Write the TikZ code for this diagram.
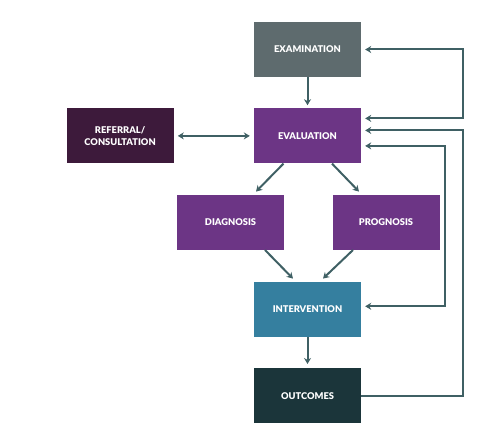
\documentclass[tikz,border=0pt]{standalone}
\usepackage{fontspec}
\setsansfont{Lato}[BoldFont={Lato Black}]
\usepackage{xcolor}
\usetikzlibrary{positioning,arrows.meta}

\definecolor{examgray}{HTML}{5E6B6E}
\definecolor{evalpurple}{HTML}{6C3585}
\definecolor{refplum}{HTML}{3D1A3B}
\definecolor{intblue}{HTML}{357F9F}
\definecolor{outteal}{HTML}{1B353A}
\definecolor{linkcol}{HTML}{3F6064}

\begin{document}
\begin{tikzpicture}[
  x=1pt, y=-1pt,
  node distance=31pt,
  stagebox/.style={rectangle, draw=none, minimum width=107pt, minimum height=55pt,
                   text=white, font=\sffamily\bfseries\fontsize{9.3}{12}\selectfont, align=center},
  link/.style={draw=linkcol, line width=2pt, >={Stealth[length=6pt,width=7pt]}},
  every edge/.style={  % connectors between the boxes
            link, ->}
]
  \useasboundingbox (0,0) rectangle (500,430);

  \node[stagebox, fill=examgray] (Ex) at (307.5,49.5) {EXAMINATION};
  \node[stagebox, fill=evalpurple] (Ev) [below=of Ex] {EVALUATION};
  \node[stagebox, fill=refplum] (Rf) [left=80pt of Ev] {REFERRAL/\\CONSULTATION};
  \node[stagebox, fill=evalpurple] (Dg) [below=of Ev, xshift=-77pt] {DIAGNOSIS};
  \node[stagebox, fill=evalpurple] (Pg) [below=of Ev, xshift=78.5pt] {PROGNOSIS};
  \node[stagebox, fill=intblue] (In) [below=118pt of Ev] {INTERVENTION};
  \node[stagebox, fill=outteal] (Oc) [below=of In] {OUTCOMES};

  % main flow
  \draw (Ex) edge ([yshift=3pt]Ev.north);
  \draw ([xshift=-24pt]Ev.south) edge ([xshift=25.5pt,yshift=3pt]Dg.north);
  \draw ([xshift=24.5pt]Ev.south) edge ([xshift=-27pt,yshift=3pt]Pg.north);
  \draw ([xshift=34.5pt]Dg.south) edge ([xshift=-14.5pt,yshift=3pt]In.north);
  \draw ([xshift=-33pt]Pg.south) edge ([xshift=15.5pt,yshift=3pt]In.north);
  \draw (In) edge ([yshift=4pt]Oc.north);
  \draw ([xshift=4pt]Rf.east) edge [<->] ([xshift=-4pt]Rf.east -| Ev.west);

  % feedback loops
  \draw[link, <->] ([xshift=4pt]Ex.east) -- ++(98,0) |- ([xshift=4pt,yshift=17.5pt]Ev.east);
  \draw[link, ->] (Oc.east) -- ++(102,0) |- ([xshift=4pt,yshift=5.5pt]Ev.east);
  \draw[link, <->] ([xshift=4pt,yshift=3pt]In.east) -- ++(80,0) |- ([xshift=4pt,yshift=-10pt]Ev.east);
\end{tikzpicture}
\end{document}
